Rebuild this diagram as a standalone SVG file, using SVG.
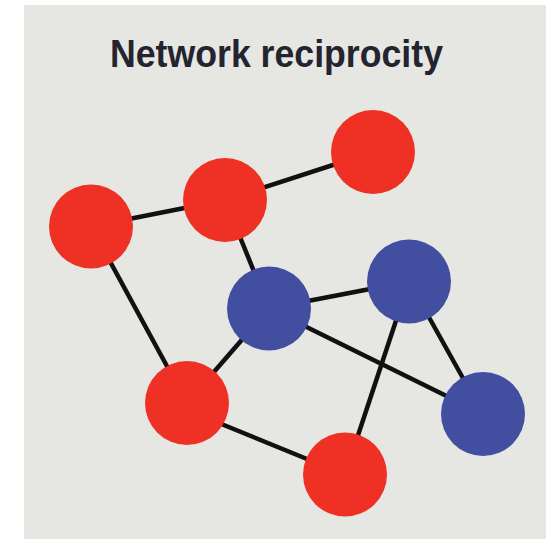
<svg xmlns="http://www.w3.org/2000/svg" width="552" height="539" viewBox="0 0 552 539">
  <style>
    .bg { fill: #e6e6e2; }
    .title { font-family: "Liberation Sans", Arial, sans-serif; font-weight: bold; font-size: 38px; fill: #23242f; }
    .edge { stroke: #111111; stroke-width: 4.5; stroke-linecap: round; fill: none; }
    .red { fill: #ee3124; }
    .blue { fill: #424ea0; }
  </style>
  <rect class="bg" x="24" y="5" width="522" height="534"/>
  <text class="title" x="110" y="66.5" textLength="333" lengthAdjust="spacingAndGlyphs">Network reciprocity</text>
  <g id="connectors">
    <line class="edge" x1="91" y1="226.5" x2="225" y2="200"/>
    <line class="edge" x1="225" y1="200" x2="373" y2="152"/>
    <line class="edge" x1="225" y1="200" x2="269" y2="308.5"/>
    <line class="edge" x1="91" y1="226.5" x2="187" y2="403"/>
    <line class="edge" x1="269" y1="308.5" x2="187" y2="403"/>
    <line class="edge" x1="269" y1="308.5" x2="409" y2="281.5"/>
    <line class="edge" x1="269" y1="308.5" x2="483" y2="414"/>
    <line class="edge" x1="409" y1="281.5" x2="483" y2="414"/>
    <line class="edge" x1="409" y1="281.5" x2="345" y2="474.5"/>
    <line class="edge" x1="187" y1="410" x2="345" y2="474.5"/>
  </g>
  <g id="nodeA"><circle class="red" cx="91" cy="226.5" r="42"/></g>
  <g id="nodeB"><circle class="red" cx="225" cy="200" r="42"/></g>
  <g id="nodeC"><circle class="red" cx="373" cy="152" r="42"/></g>
  <g id="nodeD"><circle class="blue" cx="269" cy="308.5" r="42"/></g>
  <g id="nodeE"><circle class="blue" cx="409" cy="281.5" r="42"/></g>
  <g id="nodeF"><circle class="blue" cx="483" cy="414" r="42"/></g>
  <g id="nodeG"><circle class="red" cx="187" cy="403" r="42"/></g>
  <g id="nodeH"><circle class="red" cx="345" cy="474.5" r="42"/></g>
</svg>
